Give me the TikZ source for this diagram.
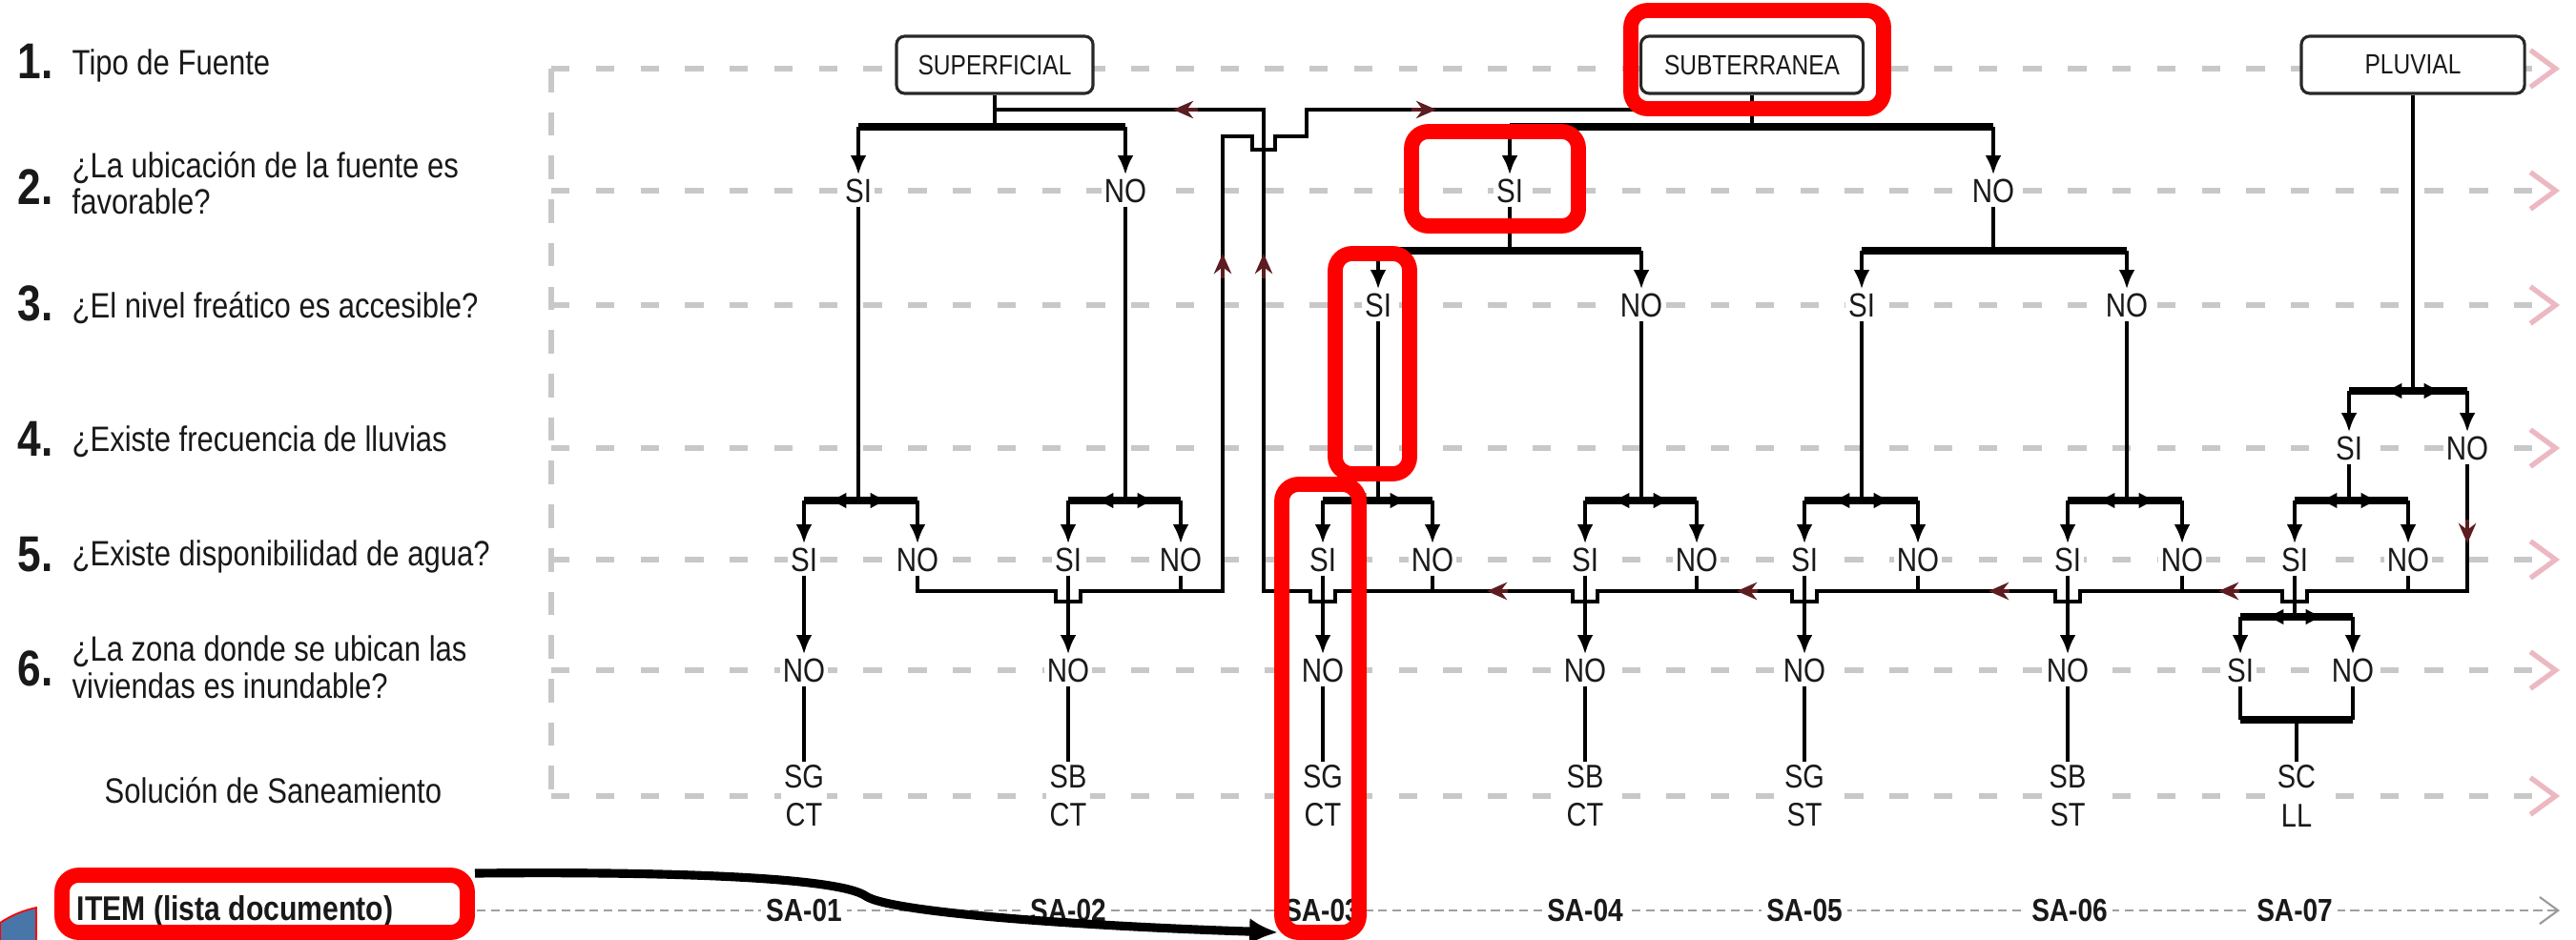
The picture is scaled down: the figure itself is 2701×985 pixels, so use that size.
\documentclass[tikz,border=0pt]{standalone}
\usepackage{fontspec}
\setmainfont{Liberation Sans}
\newfontfamily\nf[FakeStretch=0.84]{Liberation Sans}
\usetikzlibrary{arrows.meta}
\definecolor{gridgray}{RGB}{200,200,200}
\definecolor{pinkarr}{RGB}{236,184,194}
\definecolor{dred}{RGB}{92,28,32}
\definecolor{annred}{RGB}{255,0,0}
\definecolor{blueshape}{RGB}{72,118,168}
\definecolor{boxedge}{RGB}{40,40,40}
\definecolor{txt}{RGB}{25,25,25}
\tikzset{
  rowline/.style={gridgray, line width=1.5pt, dash pattern=on 5.5pt off 7.8pt,
    -{Straight Barb[length=7.5pt,width=11pt,color=pinkarr]}},
  vgrid/.style={gridgray, line width=1.5pt, dash pattern=on 7pt off 6pt},
  itemline/.style={gray!75, line width=0.6pt, dash pattern=on 2.6pt off 1.6pt,
    -{Straight Barb[length=5.5pt,width=8pt,color=gray!80]}},
  ln/.style={line width=1.05pt},
  barline/.style={line width=2pt},
  dn/.style={line width=1.2pt, -{Latex[length=5.8pt,width=4.8pt]}},
  tipL/.style={line width=1.2pt, -{Latex[length=5.8pt,width=4.8pt]}},
  rl/.style={line width=0.95pt},
  rtip/.style={dred, line width=0.95pt, -{Stealth[length=6pt,width=5.2pt]}},
  yn/.style={font=\nf\fontsize{10}{10}\selectfont, fill=white, inner sep=0.9pt,
    text height=7.2pt, text depth=0pt, text=txt},
  sol/.style={font=\nf\fontsize{9.8}{11.4}\selectfont, align=center, fill=white,
    inner sep=1pt, text=txt},
  sa/.style={font=\nf\bfseries\fontsize{9.5}{10}\selectfont, fill=white, inner sep=1.5pt, text=txt},
  src/.style={draw=boxedge, line width=0.9pt, rounded corners=2.5pt, fill=white,
    minimum height=0.6cm, inner sep=0pt, font=\nf\fontsize{8.3}{9}\selectfont, text=txt},
  qnum/.style={font=\nf\bfseries\fontsize{15}{15}\selectfont, anchor=base west,
    inner sep=0pt, text=txt},
  qtxt/.style={font=\nf\fontsize{10.5}{11}\selectfont, anchor=base west, inner sep=0pt,
    fill=white, text=txt},
  ann/.style={draw=annred, line width=4.5pt, rounded corners=5pt},
}
\begin{document}
\begin{tikzpicture}[x=0.01cm,y=-0.01cm]
\useasboundingbox (0,0) rectangle (2701,985);
\fill[white] (0,0) rectangle (2701,985);

% ---------- guide lines
\draw[vgrid] (578,72) -- (578,835);
\foreach \yy in {72,200,320,470,587,703,835}
  \draw[rowline] (578,\yy) -- (2684,\yy);
\draw[itemline] (500,955) -- (2684,955);

% ---------- left labels
\node[qnum] (q1n) at (18,83) {1.};
\node[qtxt] (q1) at (75,79) {Tipo de Fuente};
\node[qnum] (q2n) at (18,214) {2.};
\node[qtxt] (q2a) at (75,186) {¿La ubicación de la fuente es};
\node[qtxt] (q2b) at (75,224) {favorable?};
\node[qnum] (q3n) at (18,336) {3.};
\node[qtxt] (q3) at (75,333) {¿El nivel freático es accesible?};
\node[qnum] (q4n) at (18,478) {4.};
\node[qtxt] (q4) at (75,473) {¿Existe frecuencia de lluvias};
\node[qnum] (q5n) at (18,599) {5.};
\node[qtxt] (q5) at (75,593) {¿Existe disponibilidad de agua?};
\node[qnum] (q6n) at (18,719) {6.};
\node[qtxt] (q6a) at (75,693) {¿La zona donde se ubican las};
\node[qtxt] (q6b) at (75,732) {viviendas es inundable?};
\node[qtxt] (q7) at (109,842) {Solución de Saneamiento};
\node[qtxt, font=\nf\bfseries\fontsize{10.2}{11}\selectfont] (q8) at (80,965) {ITEM (lista documento)};

% ---------- source boxes
\node[src, minimum width=2.06cm] (sup) at (1043,68) {SUPERFICIAL};
\node[src, minimum width=2.33cm] (sub) at (1837,68) {SUBTERRANEA};
\node[src, minimum width=2.34cm] (plu) at (2530,68) {PLUVIAL};

% ---------- decision labels
\node[yn] (s2a) at (900,200) {SI};
\node[yn] (n2a) at (1180,200) {NO};
\node[yn] (s2b) at (1583,200) {SI};
\node[yn] (n2b) at (2090,200) {NO};
\node[yn] (s3a) at (1445,320) {SI};
\node[yn] (n3a) at (1721,320) {NO};
\node[yn] (s3b) at (1952,320) {SI};
\node[yn] (n3b) at (2230,320) {NO};
\node[yn] (s4) at (2463,470) {SI};
\node[yn] (n4) at (2587,470) {NO};

\node[yn] (s51) at (843,587) {SI};  \node[yn] (n51) at (962,587) {NO};
\node[yn] (s52) at (1120,587) {SI}; \node[yn] (n52) at (1238,587) {NO};
\node[yn] (s53) at (1387,587) {SI}; \node[yn] (n53) at (1502,587) {NO};
\node[yn] (s54) at (1662,587) {SI}; \node[yn] (n54) at (1779,587) {NO};
\node[yn] (s55) at (1892,587) {SI}; \node[yn] (n55) at (2011,587) {NO};
\node[yn] (s56) at (2168,587) {SI}; \node[yn] (n56) at (2288,587) {NO};
\node[yn] (s57) at (2406,587) {SI}; \node[yn] (n57) at (2525,587) {NO};

\node[yn] (n61) at (843,703) {NO};
\node[yn] (n62) at (1120,703) {NO};
\node[yn] (n63) at (1387,703) {NO};
\node[yn] (n64) at (1662,703) {NO};
\node[yn] (n65) at (1892,703) {NO};
\node[yn] (n66) at (2168,703) {NO};
\node[yn] (s67) at (2349,703) {SI};
\node[yn] (n67) at (2467,703) {NO};

\node[sol] (so1) at (843,835) {SG\\CT};
\node[sol] (so2) at (1120,835) {SB\\CT};
\node[sol] (so3) at (1387,835) {SG\\CT};
\node[sol] (so4) at (1662,835) {SB\\CT};
\node[sol] (so5) at (1892,835) {SG\\ST};
\node[sol] (so6) at (2168,835) {SB\\ST};
\node[sol] (so7) at (2408,835) {SC\\LL};

\node[sa] (sa1) at (843,955) {SA-01};
\node[sa] (sa2) at (1120,955) {SA-02};
\node[sa] (sa3) at (1386,955) {SA-03};
\node[sa] (sa4) at (1662,955) {SA-04};
\node[sa] (sa5) at (1892,955) {SA-05};
\node[sa] (sa6) at (2170,955) {SA-06};
\node[sa] (sa7) at (2406,955) {SA-07};

% ---------- junction coordinates
\coordinate (b1) at (1043,133);
\coordinate (b2) at (1837,133);
\coordinate (b3) at (1583,263);
\coordinate (b4) at (2090,263);
\coordinate (b5) at (2530,410);
\coordinate (j1) at (900,525);
\coordinate (j2) at (1180,525);
\coordinate (j3) at (1445,525);
\coordinate (j4) at (1721,525);
\coordinate (j5) at (1952,525);
\coordinate (j6) at (2230,525);
\coordinate (j7) at (2463,525);
\coordinate (j8) at (2406,647);
\coordinate (k8) at (2408,755);
\coordinate (rr) at (0,620);
\coordinate (r1) at (1043,115);
\coordinate (r2) at (1837,115);

% ---------- level 1 -> 2
\draw[ln] (sup) -- (b1);
\draw[barline] (s2a |- b1) -- (n2a |- b1);
\draw[dn] (s2a |- b1) -- (s2a);
\draw[dn] (n2a |- b1) -- (n2a);
\draw[ln] (sub) -- (b2);
\draw[barline] (s2b |- b2) -- (n2b |- b2);
\draw[dn] (s2b |- b2) -- (s2b);
\draw[dn] (n2b |- b2) -- (n2b);

% ---------- level 2 -> 3
\draw[ln] (s2b) -- (b3);
\draw[barline] (s3a |- b3) -- (n3a |- b3);
\draw[dn] (s3a |- b3) -- (s3a);
\draw[dn] (n3a |- b3) -- (n3a);
\draw[ln] (n2b) -- (b4);
\draw[barline] (s3b |- b4) -- (n3b |- b4);
\draw[dn] (s3b |- b4) -- (s3b);
\draw[dn] (n3b |- b4) -- (n3b);

% ---------- pluvial -> level 4
\draw[ln] (plu) -- (b5);
\draw[barline] (s4 |- b5) -- (n4 |- b5);
\draw[dn] (s4 |- b5) -- (s4);
\draw[dn] (n4 |- b5) -- (n4);
\draw[tipL] (b5) -- ++(-32,0);
\draw[tipL] (b5) -- ++(32,0);

% ---------- stems down to level 5
\draw[ln] (s2a) -- (j1);
\draw[ln] (n2a) -- (j2);
\draw[ln] (s3a) -- (j3);
\draw[ln] (n3a) -- (j4);
\draw[ln] (s3b) -- (j5);
\draw[ln] (n3b) -- (j6);
\draw[ln] (s4) -- (j7);

% ---------- level 5 forks
\foreach \k in {1,...,7}{
  \draw[barline] (s5\k |- j\k) -- (n5\k |- j\k);
  \draw[dn] (s5\k |- j\k) -- (s5\k);
  \draw[dn] (n5\k |- j\k) -- (n5\k);
  \draw[tipL] (j\k) -- ++(-33,0);
  \draw[tipL] (j\k) -- ++(33,0);
}

% ---------- level 5 -> 6 -> solution
\foreach \k in {1,...,6}{
  \draw[dn] (s5\k) -- (n6\k);
  \draw[ln] (n6\k) -- (so\k);
}
\draw[ln] (s57) -- (j8);
\draw[barline] (s67 |- j8) -- (n67 |- j8);
\draw[dn] (s67 |- j8) -- (s67);
\draw[dn] (n67 |- j8) -- (n67);
\draw[tipL] (j8) -- ++(-32,0);
\draw[tipL] (j8) -- ++(32,0);
\draw[ln] (s67) -- (s67 |- k8);
\draw[ln] (n67) -- (n67 |- k8);
\draw[barline] (s67 |- k8) -- (n67 |- k8);
\draw[ln] (k8) -- (so7);

% ---------- return lines
\draw[rl] (n4) -- (2587,620)
  -- (2419,620) -- (2419,631) -- (2393,631) -- (2393,620)
  -- (2181,620) -- (2181,631) -- (2155,631) -- (2155,620)
  -- (1905,620) -- (1905,631) -- (1879,631) -- (1879,620)
  -- (1675,620) -- (1675,631) -- (1649,631) -- (1649,620)
  -- (1400,620) -- (1400,631) -- (1374,631) -- (1374,620)
  -- (1325,620) -- (1325,115) -- (r1);
\foreach \k in {3,...,7}{ \draw[rl] (n5\k) -- (n5\k |- rr); }
\draw[rl] (n51) -- (962,620)
  -- (1107,620) -- (1107,631) -- (1133,631) -- (1133,620)
  -- (1282,620) -- (1282,143) -- (1313,143) -- (1313,157) -- (1337,157)
  -- (1337,143) -- (1370,143) -- (1370,115) -- (r2);
\draw[rl] (n52) -- (n52 |- rr);

% ---------- arrows on return lines
\draw[rtip] (2348,620) -- (2326,620);
\draw[rtip] (2107,620) -- (2085,620);
\draw[rtip] (1843,620) -- (1821,620);
\draw[rtip] (1581,620) -- (1559,620);
\draw[rtip] (2587,545) -- (2587,570);
\draw[rtip] (1325,292) -- (1325,266);
\draw[rtip] (1282,292) -- (1282,266);
\draw[rtip] (1256,115) -- (1230,115);
\draw[rtip] (1480,115) -- (1506,115);

% ---------- annotation: blue shape
\draw[annred, line width=0.5pt, fill=blueshape] (0,968) .. controls (12,960) and (24,955) .. (38,952) -- (38,990) -- (0,990) -- cycle;

% ---------- annotation: curved arrow
\coordinate (c0) at (498,916);
\draw[line width=2.6pt, -{Latex[length=8.5pt,width=8pt]}]
  (c0) .. controls (700,914) and (880,920) .. (908,940)
  .. controls (935,958) and (1150,972) .. (1340,978);

% ---------- annotation: red boxes
\draw[ann] (1710,11) rectangle (1975,114);
\draw[ann] (1480,138) rectangle (1655,237);
\draw[ann] (1400,266) rectangle (1478,497);
\draw[ann] (1344,508) rectangle (1425,978);
\draw[ann] (65,918) rectangle (490,978);
\end{tikzpicture}
\end{document}
